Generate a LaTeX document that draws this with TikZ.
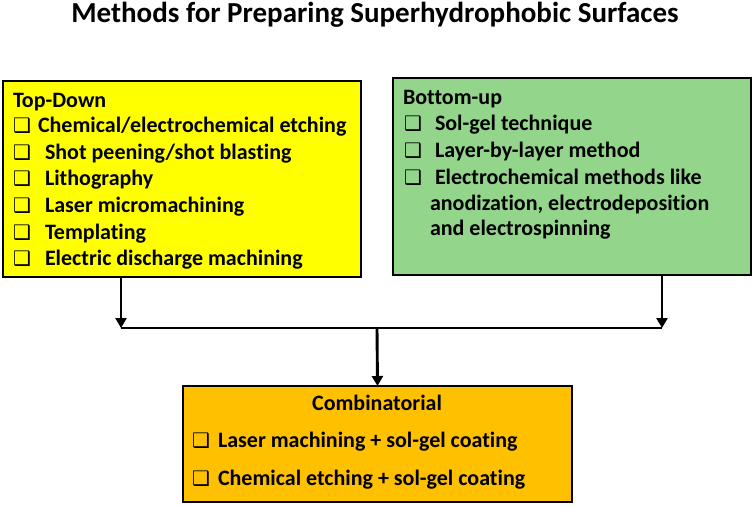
\documentclass[tikz,border=0pt]{standalone}
\usepackage{fontspec}
\setmainfont{Carlito}[Ligatures=NoCommon]
\newfontfamily\dvs{DejaVu Sans}
\usetikzlibrary{arrows.meta}
\definecolor{ylw}{RGB}{255,255,0}
\definecolor{grn}{RGB}{147,213,139}
\definecolor{org}{RGB}{255,192,0}
\newcommand{\cbx}[1]{\makebox[#1][l]{\dvs\bfseries\fontsize{20}{20}\selectfont ❑}}
\tikzset{
  txt/.style={inner sep=0pt, outer sep=0pt, anchor=base west, font=\bfseries\fontsize{22}{26}\selectfont},
  box/.style={draw=black, line width=2.4pt, inner sep=0pt, outer sep=0pt, anchor=north west},
  conn/.style={line width=2.9pt, draw=black},
  arr/.style={conn, -{Triangle[width=11pt,length=10pt]}}
}
\begin{document}
\begin{tikzpicture}[x=1pt,y=-1pt]
\useasboundingbox (0,0) rectangle (754,506);
% title
\node[txt, anchor=base, font=\bfseries\fontsize{29}{33}\selectfont] (title) at (375,22) {Methods for Preparing Superhydrophobic Surfaces};
% boxes
\node[box, fill=ylw, minimum width=358pt, minimum height=196pt] (td) at (3,81) {};
\node[box, fill=grn, minimum width=358pt, minimum height=197pt] (bu) at (393,78) {};
\node[box, fill=org, minimum width=389pt, minimum height=116pt] (cm) at (183,386) {};
% top-down text
\node[txt] (tdh) at (13,107) {Top-Down};
\node[txt] (td1) at (13,132) {\cbx{25pt}Chemical/electrochemical etching};
\node[txt] (td2) at (13,159) {\cbx{32pt}Shot peening/shot blasting};
\node[txt] (td3) at (13,185) {\cbx{32pt}Lithography};
\node[txt] (td4) at (13,212) {\cbx{32pt}Laser micromachining};
\node[txt] (td5) at (13,239) {\cbx{32pt}Templating};
\node[txt] (td6) at (13,265) {\cbx{32pt}Electric discharge machining};
% bottom-up text
\node[txt] (buh) at (403,104) {Bottom-up};
\node[txt] (bu1) at (404,130) {\cbx{31pt}Sol-gel technique};
\node[txt] (bu2) at (404,157) {\cbx{31pt}Layer-by-layer method};
\node[txt] (bu3) at (404,184) {\cbx{31pt}Electrochemical methods like};
\node[txt] (bu4) at (430,210) {anodization, electrodeposition};
\node[txt] (bu5) at (430,235) {and electrospinning};
% combinatorial text
\node[txt, anchor=base] (cmh) at (377,410) {Combinatorial};
\node[txt] (cm1) at (192,447) {\cbx{26pt}Laser machining + sol-gel coating};
\node[txt] (cm2) at (192,485) {\cbx{26pt}Chemical etching + sol-gel coating};
% connectors
\coordinate (jl) at (121,328);
\coordinate (jr) at (662,328);
\coordinate (jc) at (377,328);
\draw[conn] (jl) -- (jr);
\draw[arr] (td.south -| jl) -- (jl);
\draw[arr] (bu.south -| jr) -- (jr);
\draw[arr] (jc) -- (cm.north);
\end{tikzpicture}
\end{document}
